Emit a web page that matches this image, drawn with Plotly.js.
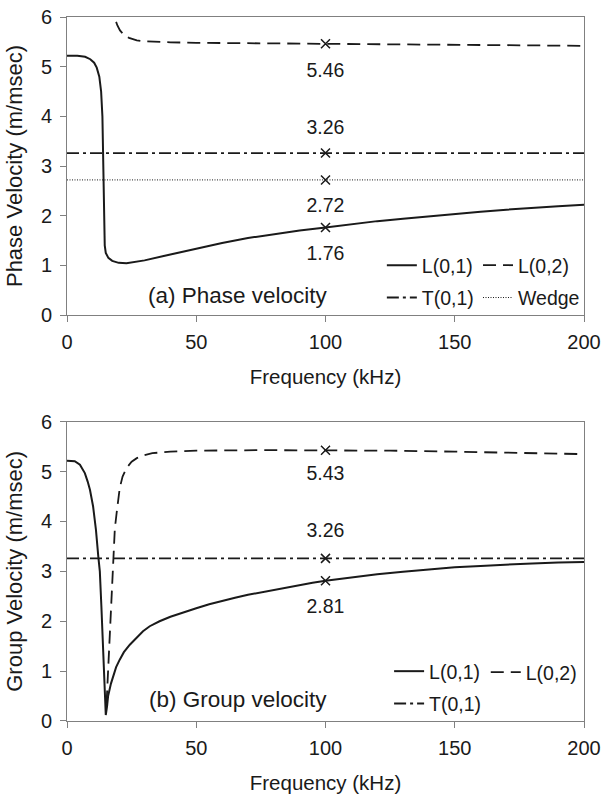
<!DOCTYPE html>
<html>
<head>
<meta charset="utf-8">
<script src="https://cdn.plot.ly/plotly-3.0.1.min.js"></script>
<style>html,body{margin:0;padding:0;background:#fff;}#chart{width:603px;height:796px;}</style>
</head>
<body>
<div id="chart"></div>
<script>
// ---- (a) Phase velocity ----
const phaseL01_f = [0, 4, 7, 9, 10.5, 11.5, 12.5, 13.2, 13.7, 14.0, 14.2, 14.4, 14.6, 15, 16, 17.5, 20, 23, 26, 30, 40, 50, 60, 70, 80, 90, 100, 110, 120, 130, 140, 150, 160, 170, 180, 190, 200];
const phaseL01_v = [5.22, 5.22, 5.2, 5.15, 5.08, 4.98, 4.8, 4.5, 4.0, 3.3, 2.5, 1.8, 1.4, 1.25, 1.15, 1.09, 1.05, 1.04, 1.06, 1.1, 1.22, 1.34, 1.45, 1.55, 1.63, 1.70, 1.76, 1.83, 1.89, 1.94, 1.99, 2.04, 2.08, 2.12, 2.16, 2.19, 2.22];
const phaseL02_f = [17.9, 18.4, 18.8, 19.5, 20.5, 22, 24, 27, 30, 40, 50, 75, 100, 125, 150, 175, 200];
const phaseL02_v = [6.3, 6.0, 5.93, 5.83, 5.73, 5.64, 5.58, 5.53, 5.51, 5.49, 5.48, 5.47, 5.46, 5.45, 5.44, 5.43, 5.42];
const phaseT01_f = [0, 200];
const phaseT01_v = [3.26, 3.26];
const wedge_f = [0, 200];
const wedge_v = [2.72, 2.72];
const phaseMark_f = [100, 100, 100, 100];
const phaseMark_v = [5.46, 3.26, 2.72, 1.76];
const phaseLabels = ["5.46", "3.26", "2.72", "1.76"];
const phaseLabel_y = [4.9, 3.74, 2.18, 1.21];

// ---- (b) Group velocity ----
const groupL01_f = [0, 3, 5, 6.9, 8, 8.9, 10.1, 11.2, 12.1, 12.7, 13.3, 13.8, 14.4, 15.0, 15.5, 15.9, 17, 17.8, 19, 20.4, 22, 24.3, 27, 29.4, 32, 35.8, 40, 45, 50, 55, 60, 65, 70, 75, 80, 85, 90, 95, 100, 110, 120, 130, 140, 150, 160, 170, 180, 190, 200];
const groupL01_v = [5.22, 5.21, 5.14, 4.97, 4.8, 4.63, 4.3, 3.83, 3.3, 3.0, 2.3, 1.7, 0.75, 0.12, 0.3, 0.5, 0.75, 0.9, 1.08, 1.23, 1.38, 1.53, 1.68, 1.8, 1.9, 2.0, 2.09, 2.18, 2.26, 2.34, 2.41, 2.47, 2.53, 2.58, 2.63, 2.68, 2.72, 2.77, 2.81, 2.88, 2.94, 2.99, 3.04, 3.08, 3.11, 3.14, 3.16, 3.18, 3.19];
const groupL02_f = [15.3, 15.8, 16.3, 16.7, 17.1, 17.5, 17.9, 18.5, 19.2, 20.4, 21.5, 23, 25, 27, 30, 33, 40, 50, 75, 100, 125, 150, 175, 200];
const groupL02_v = [0.35, 0.9, 1.4, 1.9, 2.5, 3.0, 3.4, 3.85, 4.17, 4.67, 4.9, 5.07, 5.2, 5.27, 5.33, 5.37, 5.40, 5.42, 5.43, 5.43, 5.42, 5.40, 5.38, 5.35];
const groupT01_f = [0, 200];
const groupT01_v = [3.26, 3.26];
const groupMark_f = [100, 100, 100];
const groupMark_v = [5.43, 3.26, 2.81];
const groupLabels = ["5.43", "3.26", "2.81"];
const groupLabel_y = [4.93, 3.79, 2.26];

const FONT = "Liberation Sans, Arial, sans-serif";
const INK = "#1a1a1a";
const DASH = "13px,7px";
const DASHDOT = "12px,4px,3px,4px";
const DOT = "1px,1.5px";

const markerStyle = {symbol: "x-thin-open", size: 9, color: INK, line: {color: INK, width: 1.5}};
const labelFont = {family: FONT, size: 19.5, color: INK};

const traces = [
  {x: phaseL01_f, y: phaseL01_v, name: "L(0,1)", legendgroup: "a1", mode: "lines", line: {color: INK, width: 2}, xaxis: "x", yaxis: "y", legend: "legend"},
  {x: phaseL02_f, y: phaseL02_v, name: "L(0,2)", legendgroup: "a2", mode: "lines", line: {color: INK, width: 1.8, dash: DASH}, xaxis: "x", yaxis: "y", legend: "legend2"},
  {x: phaseT01_f, y: phaseT01_v, name: "T(0,1)", legendgroup: "a3", mode: "lines", line: {color: INK, width: 1.8, dash: DASHDOT}, xaxis: "x", yaxis: "y", legend: "legend"},
  {x: wedge_f, y: wedge_v, name: "Wedge", legendgroup: "a4", mode: "lines", line: {color: INK, width: 1, dash: DOT}, xaxis: "x", yaxis: "y", legend: "legend2"},
  {x: phaseMark_f, y: phaseMark_v, mode: "markers", showlegend: false, marker: markerStyle, xaxis: "x", yaxis: "y"},
  {x: phaseMark_f, y: phaseLabel_y, text: phaseLabels, mode: "text", showlegend: false, textfont: labelFont, xaxis: "x", yaxis: "y"},

  {x: groupL01_f, y: groupL01_v, name: "L(0,1)", legendgroup: "b1", mode: "lines", line: {color: INK, width: 2}, xaxis: "x2", yaxis: "y2", legend: "legend3"},
  {x: groupL02_f, y: groupL02_v, name: "L(0,2)", legendgroup: "b2", mode: "lines", line: {color: INK, width: 1.8, dash: DASH}, xaxis: "x2", yaxis: "y2", legend: "legend4"},
  {x: groupT01_f, y: groupT01_v, name: "T(0,1)", legendgroup: "b3", mode: "lines", line: {color: INK, width: 1.8, dash: DASHDOT}, xaxis: "x2", yaxis: "y2", legend: "legend3"},
  {x: groupMark_f, y: groupMark_v, mode: "markers", showlegend: false, marker: markerStyle, xaxis: "x2", yaxis: "y2"},
  {x: groupMark_f, y: groupLabel_y, text: groupLabels, mode: "text", showlegend: false, textfont: labelFont, xaxis: "x2", yaxis: "y2"}
];

const axisCommon = {
  showgrid: false, zeroline: false, showline: true, linecolor: "#808080", linewidth: 1, mirror: true,
  ticks: "outside", ticklen: 6, tickcolor: "#808080", tickwidth: 1,
  tickfont: {family: FONT, size: 20, color: INK}
};
const xaxisCommon = Object.assign({}, axisCommon, {range: [0, 200], tickvals: [0, 50, 100, 150, 200], ticklabelstandoff: 3, title: {text: "Frequency (kHz)", font: {family: FONT, size: 20.5, color: INK}, standoff: 17}});
const yaxisCommon = Object.assign({}, axisCommon, {range: [0, 6], tickvals: [0, 1, 2, 3, 4, 5, 6], ticklabelstandoff: 4});

const legendCommon = {orientation: "v", font: {family: FONT, size: 19.5, color: INK}, bgcolor: "rgba(0,0,0,0)", borderwidth: 0, itemwidth: 30, xanchor: "left", yanchor: "middle", tracegroupgap: 4};

const layout = {
  width: 603, height: 796,
  margin: {l: 67, r: 19, t: 17, b: 75, autoexpand: false},
  paper_bgcolor: "#fff", plot_bgcolor: "#fff",
  showlegend: true,
  xaxis: Object.assign({}, xaxisCommon, {domain: [0, 1], anchor: "y"}),
  yaxis: Object.assign({}, yaxisCommon, {domain: [0.5767, 1], anchor: "x", title: {text: "Phase Velocity (m/msec)", font: {family: FONT, size: 22, color: INK}, standoff: 12}}),
  xaxis2: Object.assign({}, xaxisCommon, {domain: [0, 1], anchor: "y2"}),
  yaxis2: Object.assign({}, yaxisCommon, {domain: [0, 0.4251], anchor: "x2", title: {text: "Group Velocity (m/msec)", font: {family: FONT, size: 22, color: INK}, standoff: 12}}),
  legend: Object.assign({}, legendCommon, {x: 0.609, y: 0.6243}),
  legend2: Object.assign({}, legendCommon, {x: 0.795, y: 0.6243}),
  legend3: Object.assign({}, legendCommon, {x: 0.623, y: 0.0476}),
  legend4: Object.assign({}, legendCommon, {x: 0.810, y: 0.069}),
  annotations: [
    {xref: "x", yref: "y", x: 66, y: 0.4, text: "(a) Phase velocity", showarrow: false, font: {family: FONT, size: 22.5, color: INK}},
    {xref: "x2", yref: "y2", x: 66, y: 0.43, text: "(b) Group velocity", showarrow: false, font: {family: FONT, size: 22.5, color: INK}}
  ]
};

Plotly.newPlot("chart", traces, layout, {staticPlot: true, displayModeBar: false});
</script>
</body>
</html>
